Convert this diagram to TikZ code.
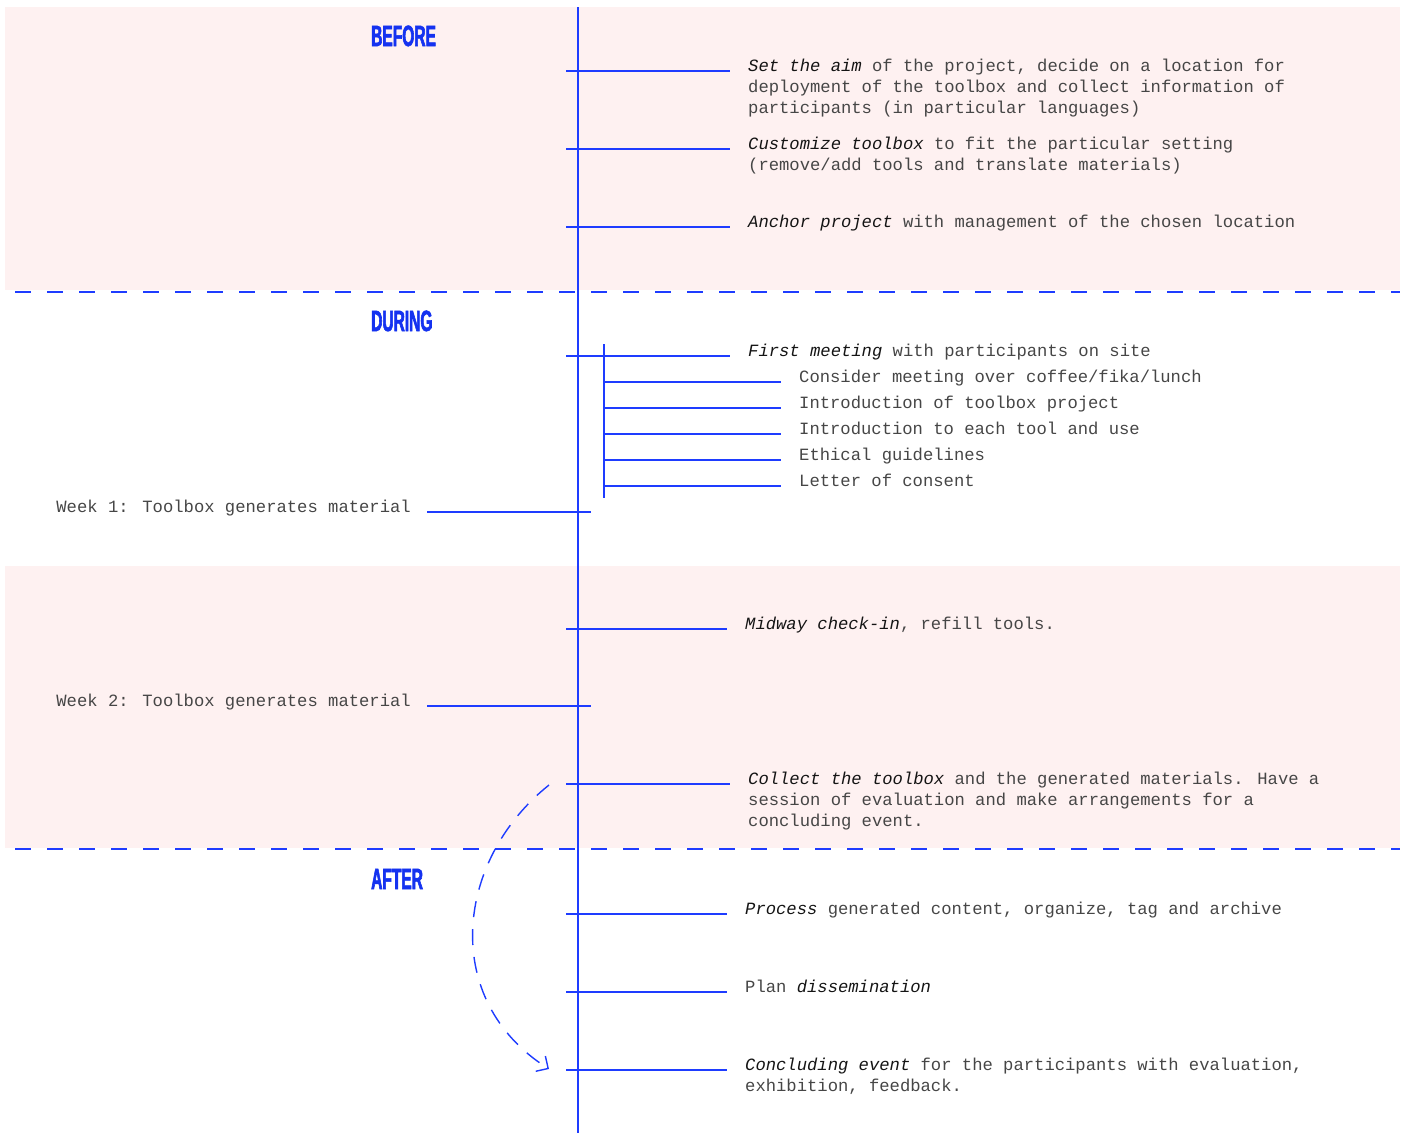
\documentclass[tikz,border=0pt]{standalone}
\usepackage{fontspec}
\usetikzlibrary{arrows.meta}

\newfontfamily\monofont{Liberation Mono}
\newfontfamily\headfont[FakeStretch=0.53, FakeBold=2]{Liberation Sans Bold}

\definecolor{lineblue}{RGB}{30,60,255}
\definecolor{headblue}{RGB}{20,50,240}
\definecolor{bandpink}{RGB}{254,241,241}
\definecolor{textgray}{RGB}{70,70,70}
\definecolor{textdark}{RGB}{20,20,20}

\newcommand\itemfont{\monofont\fontsize{17.2}{21}\selectfont}
\newcommand\keyterm[1]{{\itshape\color{textdark}#1}}

\tikzset{
  band/.style={fill=bandpink},
  divider/.style={lineblue, line width=2pt, dash pattern=on 16pt off 16pt},
  timeline/.style={lineblue, line width=1.4pt},
  tick/.style={lineblue, line width=1.4pt},
  item/.style={anchor=base west, inner sep=0pt, align=left, text=textgray, font=\itemfont},
  week/.style={item, anchor=base east},
  phase/.style={anchor=base west, inner sep=0pt, text=headblue, font=\headfont\fontsize{29.3}{30}\selectfont},
  loopback/.style={lineblue, line width=1.4pt, dash pattern=on 16pt off 12pt, -{Straight Barb[length=9pt, width=18pt]}}
}

\begin{document}
\begin{tikzpicture}[x=1pt, y=-1pt]
    \useasboundingbox (0,0) rectangle (1405,1133);

    % draw the pink bands and the dashed dividers
    \fill[band] (5,7) rectangle (1400,290);
    \fill[band] (5,566) rectangle (1400,848);
    \draw[divider] (15,292) -- (1400,292);
    \draw[divider] (15,849) -- (1400,849);

    % the timeline and the sub line of the first meeting
    \coordinate (top) at (578,7);
    \coordinate (bottom) at (578,1133);
    \draw[timeline] (top) -- (bottom);
    \coordinate (subtop) at (604,344);
    \coordinate (subbottom) at (604,498);
    \draw[timeline] (subtop) -- (subbottom);

    % phase titles
    \node[phase] (before) at (371,46) {BEFORE};
    \node[phase] (during) at (371,331) {DURING};
    \node[phase] (after) at (371,889) {AFTER};

    % before (multi line texts sit on the baseline of their last line)
    \node[item] (aim) at (748,113) {\keyterm{Set the aim} of the project, decide on a location for\\deployment of the toolbox and collect information of\\participants (in particular languages)};
    \node[item] (custom) at (748,170) {\keyterm{Customize toolbox} to fit the particular setting\\(remove/add tools and translate materials)};
    \node[item] (anchor) at (748,227) {\keyterm{Anchor project} with management of the chosen location};

    % during
    \node[item] (first) at (748,356) {\keyterm{First meeting} with participants on site};
    \node[item] (coffee) at (799,382) {Consider meeting over coffee/fika/lunch};
    \node[item] (intro) at (799,408) {Introduction of toolbox project};
    \node[item] (tools) at (799,434) {Introduction to each tool and use};
    \node[item] (ethics) at (799,460) {Ethical guidelines};
    \node[item] (consent) at (799,486) {Letter of consent};
    \node[week] (week1) at (411,512) {Week 1: Toolbox generates material};
    \node[item] (midway) at (745,629) {\keyterm{Midway check-in}, refill tools.};
    \node[week] (week2) at (411,706) {Week 2: Toolbox generates material};
    \node[item] (collect) at (748,826) {\keyterm{Collect the toolbox} and the generated materials. Have a\\session of evaluation and make arrangements for a\\concluding event.};

    % after
    \node[item] (process) at (745,914) {\keyterm{Process} generated content, organize, tag and archive};
    \node[item] (plan) at (745,992) {Plan \keyterm{dissemination}};
    \node[item] (concl) at (745,1091) {\keyterm{Concluding event} for the participants with evaluation,\\exhibition, feedback.};

    % ticks from the timeline to the texts
    \foreach \n/\y in {aim/71, custom/149, anchor/227, first/356, midway/629, collect/784, process/914, plan/992, concl/1070}
      \draw[tick] (566,\y) -- ([xshift=-18pt]\n.base west |- 0,\y);
    \foreach \n/\y in {coffee/382, intro/408, tools/434, ethics/460, consent/486}
      \draw[tick] (604,\y) -- ([xshift=-18pt]\n.base west |- 0,\y);
    \foreach \n/\y in {week1/512, week2/706}
      \draw[tick] ([xshift=16pt]\n.base east |- 0,\y) -- (591,\y);

    % collect leads on to the concluding event
    \coordinate (from) at (549,785);
    \coordinate (to) at (549,1069);
    \draw[loopback] (from) .. controls (455,860) and (440,1000) .. (to);
\end{tikzpicture}
\end{document}
